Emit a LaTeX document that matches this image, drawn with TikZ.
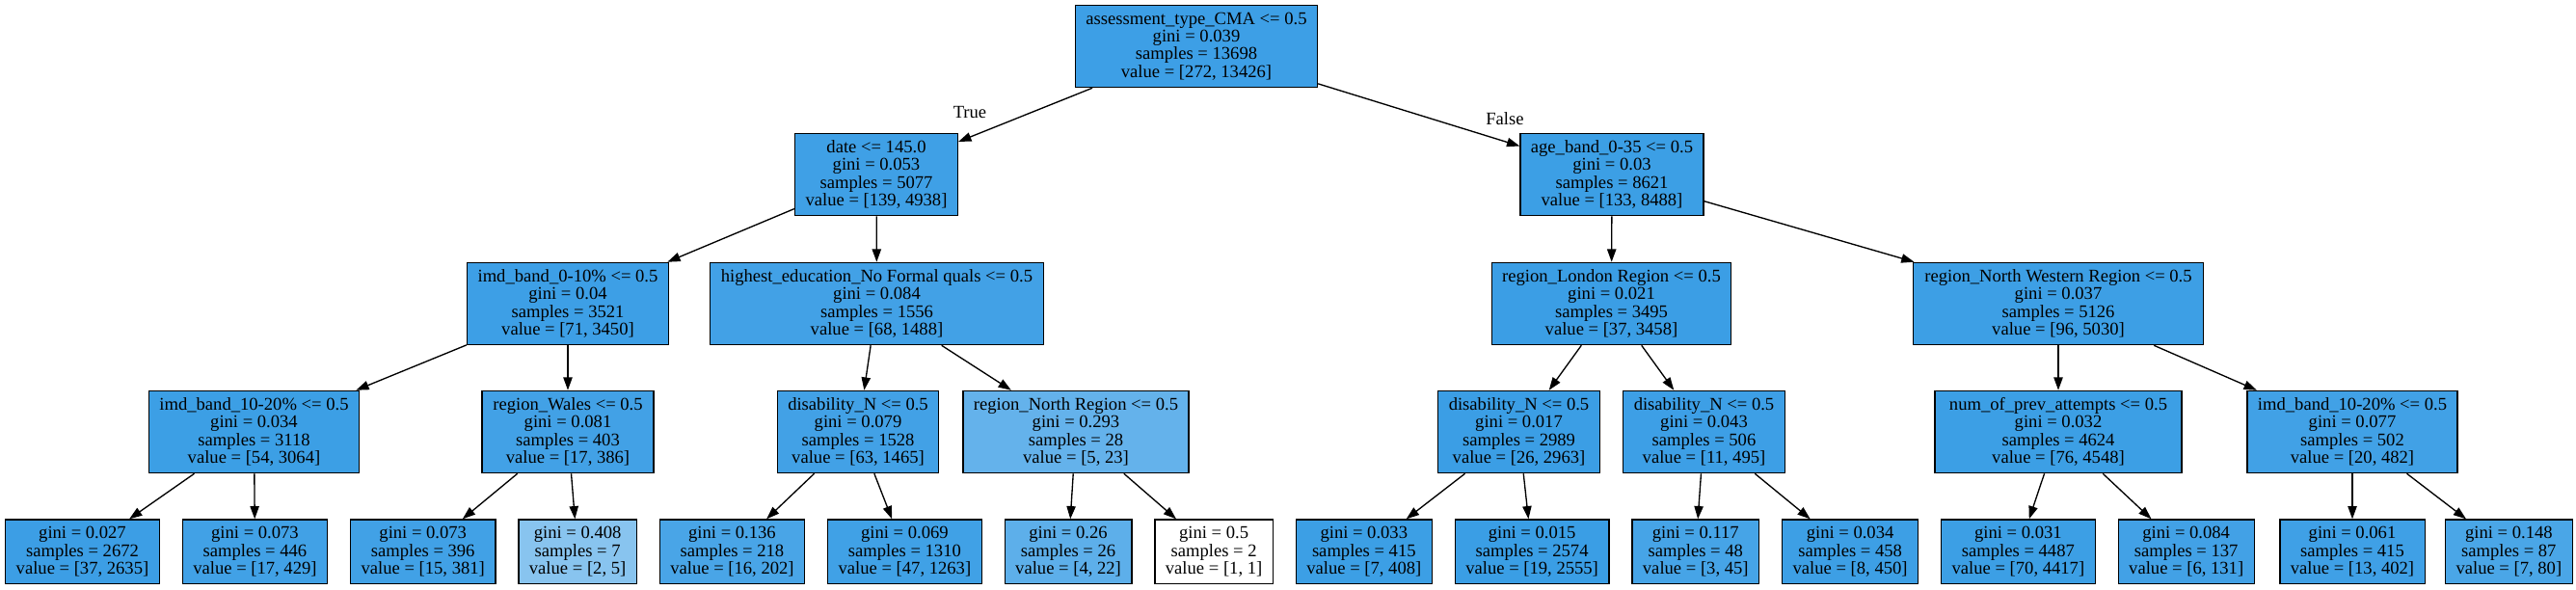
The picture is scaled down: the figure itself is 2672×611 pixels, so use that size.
\documentclass[tikz,border=0pt]{standalone}
\usepackage{fontspec}
\setmainfont{Liberation Serif}
\usetikzlibrary{arrows.meta}
\definecolor{skb}{RGB}{57,157,229}
\newcommand\nodefont{\fontsize{9.3pt}{9.2pt}\selectfont}
\tikzset{
  tn/.style={draw=black, line width=0.67pt, rectangle, inner sep=0pt, align=center,
    font=\nodefont, minimum height=42.6pt},
  lf/.style={tn, minimum height=33.3pt},
  ed/.style={draw=black, line width=0.67pt, -{Triangle[length=6.65pt,width=4.65pt]}},
  elab/.style={font=\nodefont, inner sep=0pt}
}
\begin{document}
\begin{tikzpicture}[x=0.5pt,y=-0.5pt]
\useasboundingbox (0,0) rectangle (2672,611);
% level 0
\node[tn, fill=skb!97.97!white, minimum width=125.5pt] (n0) at (1241,48) {assessment\_type\_CMA <= 0.5\\gini = 0.039\\samples = 13698\\value = [272, 13426]};
% level 1
\node[tn, fill=skb!97.19!white, minimum width=84.45pt] (n1) at (909,181) {date <= 145.0\\gini = 0.053\\samples = 5077\\value = [139, 4938]};
\node[tn, fill=skb!98.43!white, minimum width=95pt] (n2) at (1672,181) {age\_band\_0-35 <= 0.5\\gini = 0.03\\samples = 8621\\value = [133, 8488]};
% level 2
\node[tn, fill=skb!97.94!white, minimum width=104.4pt] (n3) at (589,315) {imd\_band\_0-10\% <= 0.5\\gini = 0.04\\samples = 3521\\value = [71, 3450]};
\node[tn, fill=skb!95.43!white, minimum width=173pt] (n4) at (909.5,315) {highest\_education\_No Formal quals <= 0.5\\gini = 0.084\\samples = 1556\\value = [68, 1488]};
\node[tn, fill=skb!98.93!white, minimum width=124.3pt] (n5) at (1671.5,315) {region\_London Region <= 0.5\\gini = 0.021\\samples = 3495\\value = [37, 3458]};
\node[tn, fill=skb!98.09!white, minimum width=150.4pt] (n6) at (2135,315) {region\_North Western Region <= 0.5\\gini = 0.037\\samples = 5126\\value = [96, 5030]};
% level 3
\node[tn, fill=skb!98.24!white, minimum width=109pt] (n7) at (263.5,448) {imd\_band\_10-20\% <= 0.5\\gini = 0.034\\samples = 3118\\value = [54, 3064]};
\node[tn, fill=skb!95.6!white, minimum width=89pt] (n8) at (589,448) {region\_Wales <= 0.5\\gini = 0.081\\samples = 403\\value = [17, 386]};
\node[tn, fill=skb!95.7!white, minimum width=83.75pt] (n9) at (890,448) {disability\_N <= 0.5\\gini = 0.079\\samples = 1528\\value = [63, 1465]};
\node[tn, fill=skb!78.26!white, minimum width=117pt] (n10) at (1116,448) {region\_North Region <= 0.5\\gini = 0.293\\samples = 28\\value = [5, 23]};
\node[tn, fill=skb!99.12!white, minimum width=83.75pt] (n11) at (1575.5,448) {disability\_N <= 0.5\\gini = 0.017\\samples = 2989\\value = [26, 2963]};
\node[tn, fill=skb!97.78!white, minimum width=83.75pt] (n12) at (1767.5,448) {disability\_N <= 0.5\\gini = 0.043\\samples = 506\\value = [11, 495]};
\node[tn, fill=skb!98.33!white, minimum width=128pt] (n13) at (2135,448) {num\_of\_prev\_attempts <= 0.5\\gini = 0.032\\samples = 4624\\value = [76, 4548]};
\node[tn, fill=skb!95.85!white, minimum width=109pt] (n14) at (2440,448) {imd\_band\_10-20\% <= 0.5\\gini = 0.077\\samples = 502\\value = [20, 482]};
% leaves
\node[lf, fill=skb!98.6!white, minimum width=79.8pt] (l1) at (85.5,572.3) {gini = 0.027\\samples = 2672\\value = [37, 2635]};
\node[lf, fill=skb!96.04!white, minimum width=75.15pt] (l2) at (264.45,572.3) {gini = 0.073\\samples = 446\\value = [17, 429]};
\node[lf, fill=skb!96.06!white, minimum width=75.15pt] (l3) at (438.75,572.3) {gini = 0.073\\samples = 396\\value = [15, 381]};
\node[lf, fill=skb!60!white, minimum width=61.2pt] (l4) at (599.1,572.3) {gini = 0.408\\samples = 7\\value = [2, 5]};
\node[lf, fill=skb!92.08!white, minimum width=75.15pt] (l5) at (759.45,572.3) {gini = 0.136\\samples = 218\\value = [16, 202]};
\node[lf, fill=skb!96.28!white, minimum width=79.8pt] (l6) at (938.4,572.3) {gini = 0.069\\samples = 1310\\value = [47, 1263]};
\node[lf, fill=skb!81.82!white, minimum width=65.85pt] (l7) at (1108.05,572.3) {gini = 0.26\\samples = 26\\value = [4, 22]};
\node[lf, fill=white, minimum width=61.2pt] (l8) at (1259.1,572.3) {gini = 0.5\\samples = 2\\value = [1, 1]};
\node[lf, fill=skb!98.28!white, minimum width=70.5pt] (l9) at (1414.8,572.3) {gini = 0.033\\samples = 415\\value = [7, 408]};
\node[lf, fill=skb!99.26!white, minimum width=79.8pt] (l10) at (1589.1,572.3) {gini = 0.015\\samples = 2574\\value = [19, 2555]};
\node[lf, fill=skb!93.33!white, minimum width=65.85pt] (l11) at (1758.75,572.3) {gini = 0.117\\samples = 48\\value = [3, 45]};
\node[lf, fill=skb!98.22!white, minimum width=70.5pt] (l12) at (1919.1,572.3) {gini = 0.034\\samples = 458\\value = [8, 450]};
\node[lf, fill=skb!98.42!white, minimum width=79.8pt] (l13) at (2093.4,572.3) {gini = 0.031\\samples = 4487\\value = [70, 4417]};
\node[lf, fill=skb!95.42!white, minimum width=70.5pt] (l14) at (2267.7,572.3) {gini = 0.084\\samples = 137\\value = [6, 131]};
\node[lf, fill=skb!96.77!white, minimum width=75.15pt] (l15) at (2440,572.3) {gini = 0.061\\samples = 415\\value = [13, 402]};
\node[lf, fill=skb!91.25!white, minimum width=65.85pt] (l16) at (2602.35,572.3) {gini = 0.148\\samples = 87\\value = [7, 80]};
% edges
\draw[ed] (n0) -- (n1);
\draw[ed] (n0) -- (n2);
\draw[ed] (n1) -- (n3);
\draw[ed] (n1) -- (n4);
\draw[ed] (n2) -- (n5);
\draw[ed] (n2) -- (n6);
\draw[ed] (n3) -- (n7);
\draw[ed] (n3) -- (n8);
\draw[ed] (n4) -- (n9);
\draw[ed] (n4) -- (n10);
\draw[ed] (n5) -- (n11);
\draw[ed] (n5) -- (n12);
\draw[ed] (n6) -- (n13);
\draw[ed] (n6) -- (n14);
\draw[ed] (n7) -- (l1);
\draw[ed] (n7) -- (l2);
\draw[ed] (n8) -- (l3);
\draw[ed] (n8) -- (l4);
\draw[ed] (n9) -- (l5);
\draw[ed] (n9) -- (l6);
\draw[ed] (n10) -- (l7);
\draw[ed] (n10) -- (l8);
\draw[ed] (n11) -- (l9);
\draw[ed] (n11) -- (l10);
\draw[ed] (n12) -- (l11);
\draw[ed] (n12) -- (l12);
\draw[ed] (n13) -- (l13);
\draw[ed] (n13) -- (l14);
\draw[ed] (n14) -- (l15);
\draw[ed] (n14) -- (l16);
% edge labels
\node[elab] (tlab) at (1006,116) {True};
\node[elab] (flab) at (1561,123) {False};
\end{tikzpicture}
\end{document}
